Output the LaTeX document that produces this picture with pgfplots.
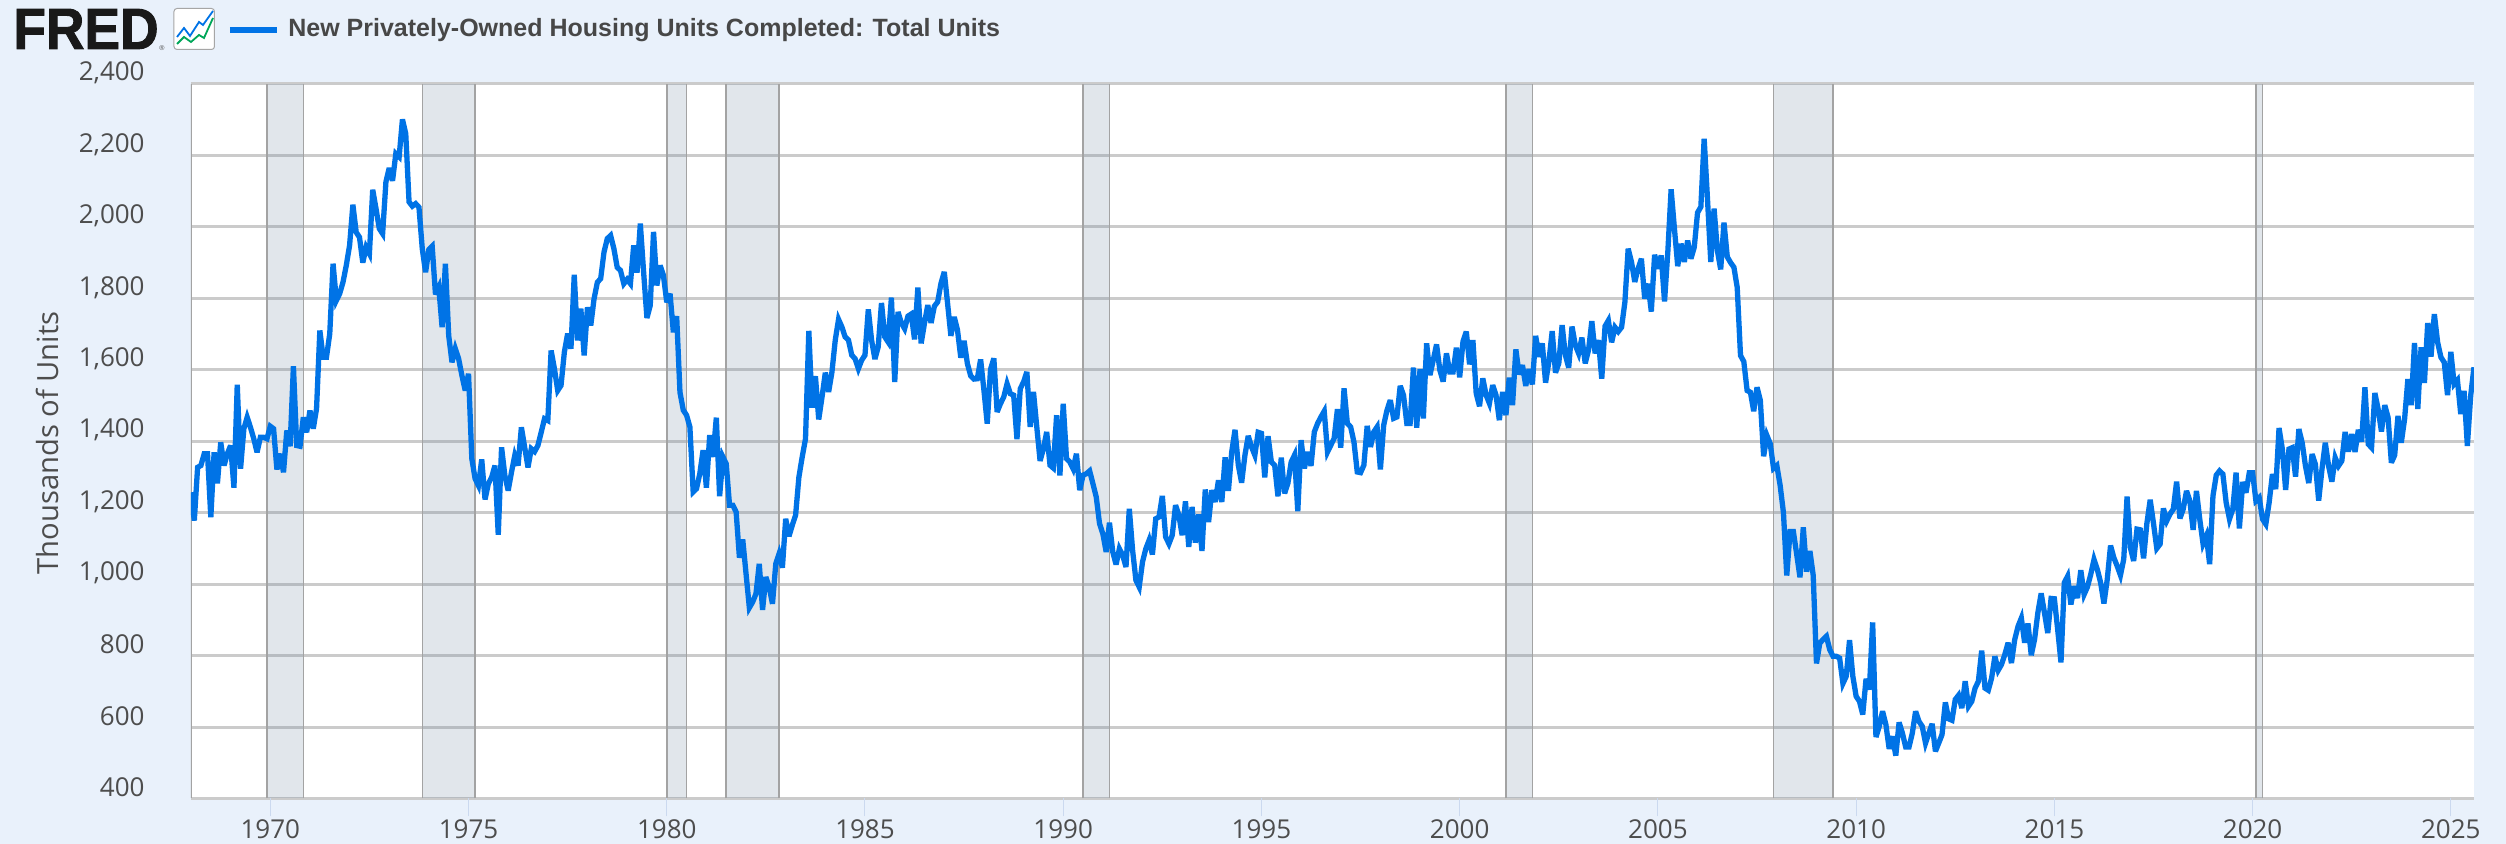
\documentclass[border=0pt]{standalone}
\usepackage{pgfplots}
\pgfplotsset{compat=1.18}
\usepackage{fontspec}
\setmainfont{Open Sans}
\newfontfamily\legfont{Liberation Sans}
\newfontfamily\fredfont[FakeBold=1.6]{Liberation Sans Bold}
\definecolor{bgc}{HTML}{E9F1FB}
\definecolor{linec}{HTML}{0073E6}
\definecolor{gridc}{HTML}{CBCBCB}
\definecolor{edgec}{HTML}{A3A3A3}
\definecolor{bandc}{HTML}{69829B}
\definecolor{txtc}{HTML}{4D4D4D}
\definecolor{tickc}{HTML}{CBD9EF}
\begin{document}
\begin{tikzpicture}
\useasboundingbox (-95.5pt,-22.75pt) rectangle (1157.5pt,399.25pt);
\fill[bgc] (-95.5pt,-22.75pt) rectangle (1157.5pt,399.25pt);
\begin{axis}[
  at={(0pt,0pt)}, anchor=south west,
  scale only axis, width=1141.5pt, height=357.25pt,
  xmin=0, xmax=691, ymin=400, ymax=2400,
  axis background/.style={fill=white},
  axis line style={draw=none},
  xtick={24,84,144,204,264,324,384,444,504,564,624,684},
  xticklabels={1970,1975,1980,1985,1990,1995,2000,2005,2010,2015,2020,2025},
  ytick={400,600,...,2400},
  ymajorgrids,
  major grid style={draw=gridc,line width=1.5pt},
  x tick style={draw=tickc,line width=0.5pt},
  y tick style={draw=none},
  tick align=outside,
  xtick pos=bottom, ytick pos=left,
  major tick length=9pt,
  tick label style={font=\fontsize{13}{15}\selectfont,text=txtc,inner sep=0pt},
  xticklabel style={yshift=-1.4pt},
  yticklabel style={anchor=east,xshift=-14pt,yshift=5.5pt},
  /pgf/number format/assume math mode=true,
  /pgf/number format/1000 sep={,},
  scaled y ticks=false,
  unbounded coords=jump,
  clip=true,
]
\addplot[draw=none,fill=bandc,fill opacity=.2] coordinates {(23,400)(34,400)(34,2400)(23,2400)} --cycle;
\addplot[draw=none,fill=bandc,fill opacity=.2] coordinates {(70,400)(86,400)(86,2400)(70,2400)} --cycle;
\addplot[draw=none,fill=bandc,fill opacity=.2] coordinates {(144,400)(150,400)(150,2400)(144,2400)} --cycle;
\addplot[draw=none,fill=bandc,fill opacity=.2] coordinates {(162,400)(178,400)(178,2400)(162,2400)} --cycle;
\addplot[draw=none,fill=bandc,fill opacity=.2] coordinates {(270,400)(278,400)(278,2400)(270,2400)} --cycle;
\addplot[draw=none,fill=bandc,fill opacity=.2] coordinates {(398,400)(406,400)(406,2400)(398,2400)} --cycle;
\addplot[draw=none,fill=bandc,fill opacity=.2] coordinates {(479,400)(497,400)(497,2400)(479,2400)} --cycle;
\addplot[draw=none,fill=bandc,fill opacity=.2] coordinates {(625,400)(627,400)(627,2400)(625,2400)} --cycle;
\addplot[draw=edgec,line width=0.75pt,forget plot] coordinates {
(0,400)(0,2400)(0,nan)
(23,400)(23,2400)(23,nan)(34,400)(34,2400)(34,nan)
(70,400)(70,2400)(70,nan)(86,400)(86,2400)(86,nan)
(144,400)(144,2400)(144,nan)(150,400)(150,2400)(150,nan)
(162,400)(162,2400)(162,nan)(178,400)(178,2400)(178,nan)
(270,400)(270,2400)(270,nan)(278,400)(278,2400)(278,nan)
(398,400)(398,2400)(398,nan)(406,400)(406,2400)(406,nan)
(479,400)(479,2400)(479,nan)(497,400)(497,2400)(497,nan)
(625,400)(625,2400)(625,nan)(627,400)(627,2400)
};
\addplot[draw=linec,line width=2.65pt,miter limit=4,no marks] table[x=m,y=v] {
m v
0 1257
1 1178
2 1327
3 1332
4 1365
5 1365
6 1187
7 1369
8 1282
9 1397
10 1332
11 1365
12 1388
13 1270
14 1558
15 1323
16 1435
17 1467
18 1439
19 1407
20 1369
21 1411
22 1411
23 1407
24 1442
25 1435
26 1321
27 1365
28 1313
29 1430
30 1386
31 1610
32 1388
33 1386
34 1467
35 1425
36 1486
37 1435
38 1491
39 1710
40 1635
41 1635
42 1701
43 1897
44 1794
45 1813
46 1845
47 1892
48 1948
49 2062
50 1985
51 1971
52 1900
53 1943
54 1925
55 2104
56 2051
57 1995
58 1981
59 2126
60 2165
61 2129
62 2205
63 2196
64 2301
65 2261
66 2070
67 2058
68 2065
69 2055
70 1939
71 1873
72 1937
73 1946
74 1811
75 1831
76 1719
77 1897
78 1696
79 1621
80 1659
81 1631
82 1584
83 1542
84 1589
85 1351
86 1295
87 1276
88 1349
89 1237
90 1281
91 1299
92 1332
93 1138
94 1383
95 1304
96 1262
97 1313
98 1360
99 1332
100 1439
101 1383
102 1327
103 1379
104 1371
105 1388
106 1425
107 1463
108 1458
109 1654
110 1603
111 1542
112 1556
113 1649
114 1701
115 1659
116 1866
117 1682
118 1771
119 1640
120 1775
121 1724
122 1799
123 1845
124 1855
125 1929
126 1967
127 1976
128 1939
129 1887
130 1878
131 1841
132 1853
133 1841
134 1948
135 1872
136 2009
137 1873
138 1745
139 1780
140 1986
141 1836
142 1892
143 1864
144 1789
145 1813
146 1705
147 1750
148 1537
149 1487
150 1473
151 1440
152 1258
153 1267
154 1309
155 1375
156 1270
157 1417
158 1356
159 1466
160 1246
161 1356
162 1337
163 1221
164 1221
165 1202
166 1074
167 1125
168 1029
169 934
170 950
171 973
172 1057
173 928
174 1020
175 992
176 945
177 1057
178 1085
179 1046
180 1183
181 1134
182 1165
183 1193
184 1300
185 1356
186 1407
187 1709
188 1494
189 1582
190 1461
191 1524
192 1592
193 1538
194 1594
195 1683
196 1741
197 1720
198 1692
199 1683
200 1641
201 1631
202 1603
203 1627
204 1641
205 1769
206 1683
207 1630
208 1664
209 1787
210 1692
211 1678
212 1802
213 1566
214 1762
215 1731
216 1715
217 1750
218 1756
219 1685
220 1830
221 1674
222 1730
223 1781
224 1731
225 1778
226 1790
227 1842
228 1874
229 1786
230 1695
231 1748
232 1711
233 1634
234 1681
235 1617
236 1583
237 1574
238 1575
239 1629
240 1543
241 1449
242 1601
243 1632
244 1482
245 1505
246 1524
247 1561
248 1533
249 1529
250 1406
251 1547
252 1566
253 1594
254 1440
255 1538
256 1440
257 1345
258 1379
259 1426
260 1333
261 1325
262 1473
263 1304
264 1505
265 1351
266 1342
267 1323
268 1365
269 1263
270 1305
271 1309
272 1317
273 1281
274 1244
275 1169
276 1141
277 1090
278 1172
279 1090
280 1055
281 1099
282 1081
283 1048
284 1211
285 1095
286 1011
287 992
288 1062
289 1099
290 1123
291 1083
292 1183
293 1188
294 1247
295 1132
296 1113
297 1137
298 1221
299 1193
300 1137
301 1232
302 1104
303 1216
304 1116
305 1195
306 1093
307 1265
308 1174
309 1263
310 1230
311 1291
312 1230
313 1355
314 1261
315 1370
316 1432
317 1333
318 1284
319 1361
320 1415
321 1384
322 1361
323 1425
324 1422
325 1299
326 1414
327 1342
328 1333
329 1246
330 1354
331 1254
332 1282
333 1342
334 1361
335 1204
336 1403
337 1324
338 1370
339 1331
340 1426
341 1450
342 1468
343 1484
344 1370
345 1389
346 1408
347 1490
348 1382
349 1548
350 1450
351 1440
352 1398
353 1314
354 1312
355 1333
356 1443
357 1384
358 1426
359 1440
360 1321
361 1445
362 1487
363 1515
364 1464
365 1468
366 1555
367 1529
368 1450
369 1450
370 1606
371 1438
372 1602
373 1464
374 1674
375 1585
376 1627
377 1671
378 1599
379 1567
380 1646
381 1594
382 1594
383 1662
384 1579
385 1679
386 1707
387 1615
388 1683
389 1534
390 1498
391 1576
392 1529
393 1506
394 1557
395 1529
396 1459
397 1538
398 1473
399 1578
400 1501
401 1657
402 1587
403 1613
404 1555
405 1602
406 1559
407 1695
408 1636
409 1674
410 1564
411 1623
412 1708
413 1592
414 1618
415 1725
416 1641
417 1606
418 1721
419 1669
420 1646
421 1690
422 1618
423 1655
424 1736
425 1646
426 1683
427 1575
428 1722
429 1738
430 1677
431 1719
432 1707
433 1719
434 1789
435 1939
436 1902
437 1846
438 1883
439 1911
440 1799
441 1841
442 1763
443 1922
444 1883
445 1920
446 1791
447 1930
448 2105
449 1995
450 1890
451 1953
452 1902
453 1962
454 1911
455 1943
456 2040
457 2056
458 2247
459 2079
460 1902
461 2051
462 1934
463 1881
464 2012
465 1916
466 1900
467 1887
468 1831
469 1640
470 1623
471 1542
472 1537
473 1484
474 1551
475 1514
476 1358
477 1416
478 1393
479 1324
480 1332
481 1276
482 1200
483 1024
484 1147
485 1147
486 1084
487 1019
488 1159
489 1035
490 1093
491 1025
492 778
493 835
494 845
495 854
496 817
497 798
498 798
499 793
500 722
501 742
502 843
503 742
504 686
505 672
506 635
507 735
508 705
509 893
510 572
511 602
512 644
513 607
514 539
515 574
516 520
517 613
518 583
519 544
520 544
521 583
522 644
523 616
524 602
525 555
526 583
527 609
528 532
529 555
530 579
531 669
532 623
533 619
534 677
535 689
536 653
537 728
538 658
539 672
540 709
541 728
542 814
543 709
544 703
545 737
546 798
547 759
548 775
549 803
550 836
551 779
552 845
553 882
554 905
555 836
556 890
557 801
558 845
559 920
560 974
561 920
562 863
563 960
564 959
565 873
566 781
567 1004
568 1022
569 943
570 994
571 961
572 1039
573 971
574 992
575 1027
576 1069
577 1041
578 1004
579 946
580 1013
581 1108
582 1074
583 1051
584 1025
585 1070
586 1245
587 1102
588 1065
589 1154
590 1152
591 1072
592 1170
593 1236
594 1170
595 1100
596 1112
597 1212
598 1177
599 1196
600 1210
601 1287
602 1184
603 1210
604 1261
605 1233
606 1152
607 1261
608 1182
609 1113
610 1135
611 1056
612 1247
613 1305
614 1317
615 1308
616 1228
617 1182
618 1210
619 1312
620 1156
621 1286
622 1256
623 1312
624 1312
625 1233
626 1242
627 1182
628 1168
629 1228
630 1308
631 1266
632 1437
633 1378
634 1264
635 1378
636 1382
637 1301
638 1434
639 1396
640 1331
641 1283
642 1364
643 1336
644 1234
645 1322
646 1396
647 1331
648 1287
649 1354
650 1331
651 1345
652 1426
653 1371
654 1420
655 1370
656 1432
657 1399
658 1551
659 1392
660 1382
661 1535
662 1490
663 1427
664 1501
665 1467
666 1340
667 1361
668 1471
669 1396
670 1462
671 1574
672 1501
673 1675
674 1490
675 1663
676 1563
677 1731
678 1637
679 1756
680 1677
681 1635
682 1621
683 1529
684 1650
685 1560
686 1571
687 1476
688 1541
689 1387
690 1527
691 1607
};
\end{axis}
% page furniture, in pixel coordinates of the reference
\begin{scope}[shift={(-95.5pt,399.25pt)},x=0.5pt,y=-0.5pt]
\node[anchor=center,rotate=90,text=txtc,font=\fontsize{14.6}{16}\selectfont,inner sep=0pt] at (47,443) {Thousands of Units};
\node[anchor=west,inner sep=0pt,text=black!90,xscale=.92,font=\fredfont\fontsize{29}{30}\selectfont] at (13,29) {FRED};
\node[anchor=center,inner sep=0pt,text=black!70,font=\legfont\fontsize{3.5}{4}\selectfont] at (162,48) {\textregistered};
\draw[draw=gray!70,fill=white,rounded corners=1.5pt,line width=.5pt] (174,8.5) rectangle (214.5,49.5);
\draw[draw=linec,line width=.9pt] (177,37) -- (184,28) -- (190,36) -- (199,22) -- (203,25) -- (213,11);
\draw[draw=teal!70!green,line width=.9pt] (177,44) -- (184,37) -- (191,42) -- (199,35) -- (204,38) -- (213,18);
\draw[draw=linec,line width=3.2pt] (230,30) -- (277,30);
\node[anchor=west,inner sep=0pt,text=black!72,font=\legfont\bfseries\fontsize{12.5}{14}\selectfont] at (288,30) {New Privately-Owned Housing Units Completed: Total Units};
\end{scope}
\end{tikzpicture}
\end{document}
